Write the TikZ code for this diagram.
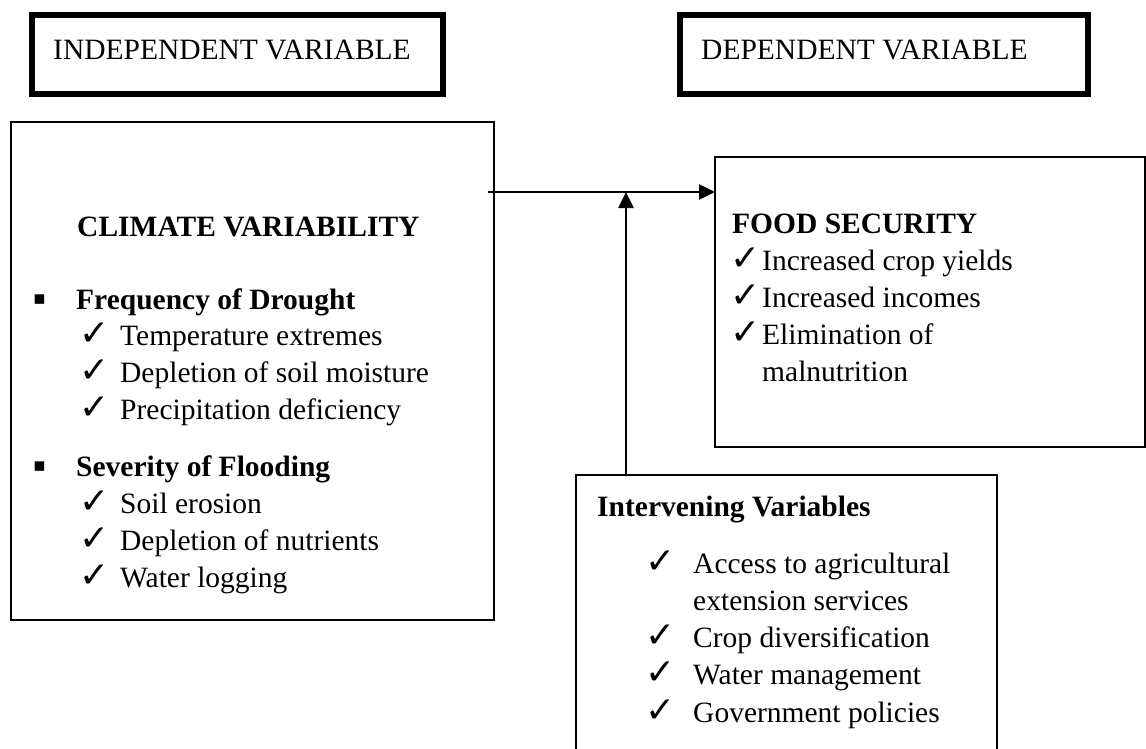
\documentclass[tikz,border=0pt]{standalone}
\usepackage{fontspec}
\setmainfont{Liberation Serif}
\newfontfamily\symb{DejaVu Sans}
\usetikzlibrary{arrows.meta}

% tick in a box of given width, then the item text
\newcommand{\tick}[1]{\makebox[#1][l]{\symb\fontsize{36}{36}\selectfont ✓}}
\newcommand{\sqbul}{\raisebox{4.7pt}{\symb\fontsize{19}{19}\selectfont ▪}}

\begin{document}
\begin{tikzpicture}[%
    x=1pt, y=-1pt,
    >={Triangle[length=16pt,width=15pt]},
    font=\fontsize{29.5}{36}\selectfont,
    box/.style={draw, line width=2pt, inner sep=0pt, outer sep=0pt},
    thickbox/.style={draw, line width=6pt, inner sep=0pt, outer sep=0pt},
    txt/.style={anchor=base west, inner sep=0pt},
    bold/.style={txt, font=\fontsize{29.5}{36}\selectfont\bfseries},
  ]
    \useasboundingbox (0,0) rectangle (1146,749);
    \clip (0,0) rectangle (1146,749);

    % headings
    \node[thickbox, minimum width=411pt, minimum height=79pt] (indep) at (237.5,54.5) {};
    \node[thickbox, minimum width=408pt, minimum height=79pt] (dep)   at (884,54.5)   {};
    \node[txt] (indeplbl) at (53,60)  {INDEPENDENT VARIABLE};
    \node[txt] (deplbl)   at (701,60) {DEPENDENT VARIABLE};

    % the three boxes
    \node[box, minimum width=483pt, minimum height=498pt] (climate) at (252.5,371) {};
    \node[box, minimum width=430pt, minimum height=290pt] (food)    at (930,302)   {};
    \node[box, minimum width=421pt, minimum height=325pt] (interv)  at (786.5,637.5) {};

    % climate variability
    \node[bold] (clim) at (77,236) {CLIMATE VARIABILITY};
    \node[txt] (b1) at (33,309) {\sqbul};
    \node[bold] (drought) at (76,309) {Frequency of Drought};
    \foreach \t [count=\i] in {Temperature extremes, Depletion of soil moisture, Precipitation deficiency}
      \node[txt] (dr\i) at (79,{345+37*(\i-1)}) {\tick{41pt}\t};
    \node[txt] (b2) at (33,476) {\sqbul};
    \node[bold] (flood) at (76,476) {Severity of Flooding};
    \foreach \t [count=\i] in {Soil erosion, Depletion of nutrients, Water logging}
      \node[txt] (fl\i) at (79,{513+37*(\i-1)}) {\tick{41pt}\t};

    % food security
    \node[bold] (foodlbl) at (732,233) {FOOD SECURITY};
    \foreach \t [count=\i] in {Increased crop yields, Increased incomes, Elimination of}
      \node[txt] (fs\i) at (730,{270+37*(\i-1)}) {\tick{32pt}\t};
    \node[txt] (fs4) at (762,381) {malnutrition};

    % intervening variables
    \node[bold] (intlbl) at (597,516) {Intervening Variables};
    \node[txt] (iv1) at (645,573) {\tick{48pt}Access to agricultural};
    \node[txt] (iv1b) at (693,610) {extension services};
    \foreach \t [count=\i from 2] in {Crop diversification, Water management, Government policies}
      \node[txt] (iv\i) at (645,{647+37.5*(\i-2)}) {\tick{48pt}\t};

    % arrows
    \coordinate (j) at (626,192);
    \draw[->, line width=2.5pt] ([xshift=-6pt]climate.east |- j) -- (food.west |- j);
    \draw[->, line width=2.5pt] (interv.north -| j) -- (j);
\end{tikzpicture}
\end{document}
